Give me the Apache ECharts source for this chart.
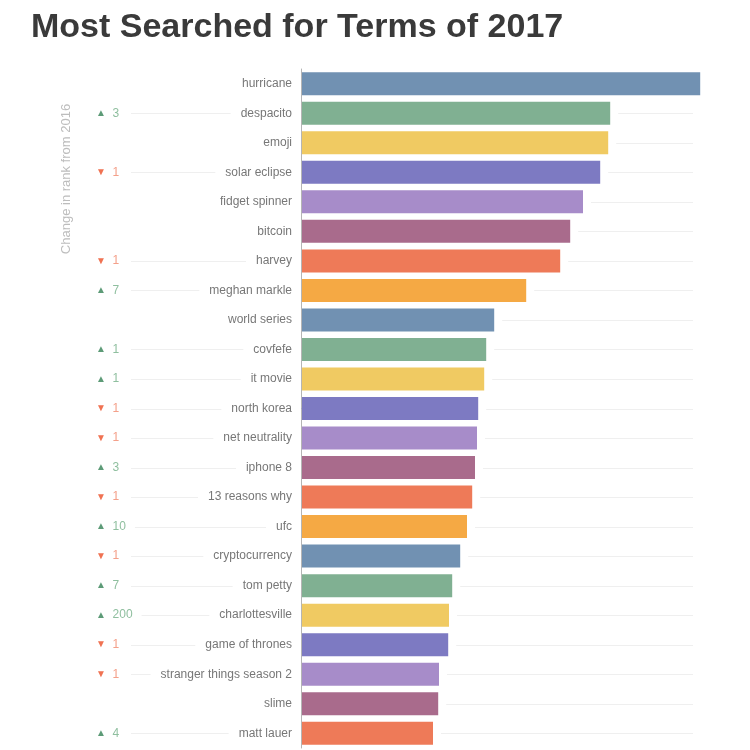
<!DOCTYPE html>
<html>
<head>
<meta charset="utf-8">
<script src="https://cdn.jsdelivr.net/npm/echarts@6/dist/echarts.min.js"></script>
<style>html,body{margin:0;padding:0;background:#fff}#chart{width:750px;height:750px}</style>
</head>
<body>
<div id="chart"></div>
<script>
const titleText = 'Most Searched for Terms of 2017';
const sideNote = 'Change in rank from 2016';
const terms = ['hurricane', 'despacito', 'emoji', 'solar eclipse', 'fidget spinner', 'bitcoin', 'harvey',
  'meghan markle', 'world series', 'covfefe', 'it movie', 'north korea', 'net neutrality', 'iphone 8',
  '13 reasons why', 'ufc', 'cryptocurrency', 'tom petty', 'charlottesville', 'game of thrones',
  'stranger things season 2', 'slime', 'matt lauer'];
const values = [99.8, 77.3, 76.8, 74.8, 70.5, 67.3, 64.8, 56.3, 48.3, 46.3, 45.8, 44.3, 44.0, 43.5,
  42.8, 41.5, 39.8, 37.8, 37.0, 36.8, 34.5, 34.3, 33.0];
const rankDir = ['', 'up', '', 'down', '', '', 'down', 'up', '', 'up', 'up', 'down', 'down', 'up',
  'down', 'up', 'down', 'up', 'up', 'down', 'down', '', 'up'];
const rankDelta = [null, 3, null, 1, null, null, 1, 7, null, 1, 1, 1, 1, 3, 1, 10, 1, 7, 200, 1, 1, null, 4];
const palette = ['#7191b2', '#80b092', '#f0ca62', '#7d7ac2', '#a78cc9', '#a96b8c', '#ee7a58', '#f5a944'];
const guideMax = 98;

const chart = echarts.init(document.getElementById('chart'));
const guideData = values.map((v, i) => [v, i, rankDelta[i] == null ? 0 : 1]);

chart.setOption({
  animation: false,
  backgroundColor: '#ffffff',
  title: {
    text: titleText, left: 26, top: 6,
    textStyle: { fontFamily: 'Liberation Sans', fontSize: 34, fontWeight: 'bold', color: '#3a3a3a' }
  },
  graphic: [{
    type: 'text', x: 66, y: 179, rotation: Math.PI / 2,
    style: { text: sideNote, fill: '#bdbdbd', fontSize: 13, fontFamily: 'Liberation Sans',
      align: 'center', verticalAlign: 'middle' }
  }],
  grid: { left: 301, right: 49, top: 69, bottom: 2 },
  xAxis: { type: 'value', min: 0, max: 100, show: false },
  yAxis: [{
    type: 'category', data: terms, inverse: true, z: 5,
    axisLine: { show: true, lineStyle: { color: '#b5b5b5', width: 1 } },
    axisTick: { show: false },
    axisLabel: { color: '#777777', fontSize: 12, fontFamily: 'Liberation Sans', margin: 9,
      backgroundColor: '#ffffff', padding: [2, 0, 2, 10] }
  }, {
    type: 'category', data: terms, inverse: true, position: 'left', z: 5,
    axisLine: { show: false }, axisTick: { show: false },
    axisLabel: {
      align: 'left', margin: 205, fontSize: 12, fontFamily: 'Liberation Sans',
      backgroundColor: '#ffffff', padding: [2, 9, 2, 0],
      formatter: function (v, i) {
        if (rankDelta[i] == null) return '';
        return rankDir[i] === 'up' ? '{u|▲}  {un|' + rankDelta[i] + '}' : '{d|▼}  {dn|' + rankDelta[i] + '}';
      },
      rich: {
        u: { color: '#5d9b77', fontSize: 10 },
        un: { color: '#8fbf9f', fontSize: 12 },
        d: { color: '#f07252', fontSize: 10 },
        dn: { color: '#f4a08a', fontSize: 12 }
      }
    }
  }],
  series: [{
    type: 'custom', z: 1, silent: true,
    data: guideData,
    encode: { x: 0, y: 1 },
    renderItem: function (params, api) {
      const i = api.value(1);
      const end = api.coord([api.value(0), i]);
      const far = api.coord([guideMax, i]);
      const start = api.coord([0, i]);
      const y = Math.round(end[1]) + 0.5;
      const kids = [];
      if (end[0] + 8 < far[0]) {
        kids.push({ type: 'line', shape: { x1: end[0] + 8, y1: y, x2: far[0], y2: y },
          style: { stroke: '#efefef', lineWidth: 1 } });
      }
      if (api.value(2)) {
        kids.push({ type: 'line', shape: { x1: start[0] - 170, y1: y, x2: start[0] - 11, y2: y },
          style: { stroke: '#efefef', lineWidth: 1 } });
      }
      return { type: 'group', children: kids };
    }
  }, {
    type: 'bar', z: 3, barWidth: 23,
    data: values,
    itemStyle: { color: function (p) { return palette[p.dataIndex % palette.length]; } }
  }]
});
</script>
</body>
</html>
